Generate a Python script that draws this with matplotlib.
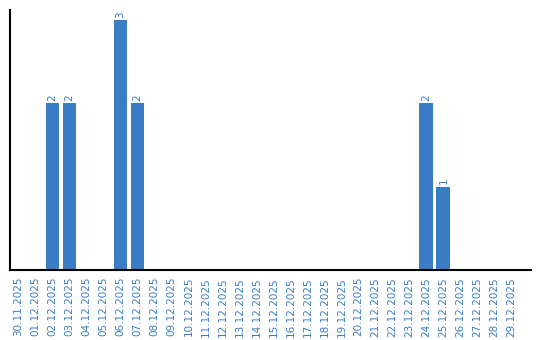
import matplotlib
matplotlib.use("Agg")
import matplotlib.pyplot as plt
import numpy as np

# Daten
dates = ["30.11.2025", "01.12.2025", "02.12.2025", "03.12.2025", "04.12.2025",
         "05.12.2025", "06.12.2025", "07.12.2025", "08.12.2025", "09.12.2025",
         "10.12.2025", "11.12.2025", "12.12.2025", "13.12.2025", "14.12.2025",
         "15.12.2025", "16.12.2025", "17.12.2025", "18.12.2025", "19.12.2025",
         "20.12.2025", "21.12.2025", "22.12.2025", "23.12.2025", "24.12.2025",
         "25.12.2025", "26.12.2025", "27.12.2025", "28.12.2025", "29.12.2025"]
counts = [0, 0, 2, 2, 0, 0, 3, 2, 0, 0, 0, 0, 0, 0, 0,
          0, 0, 0, 0, 0, 0, 0, 0, 0, 2, 1, 0, 0, 0, 0]

blue = "#3A7DC4"

fig = plt.figure(figsize=(5.4, 3.4), dpi=100)
ax = fig.add_axes([10 / 540, 70 / 340, 521 / 540, 260 / 340])

x = np.arange(len(dates))
bars = ax.bar(x, counts, width=0.82, color=blue)

for xi, c in zip(x, counts):
    if c > 0:
        ax.text(xi, c + 0.03, str(c), rotation=90, ha="center", va="bottom",
                color=blue, fontsize=7.5)

ax.set_xlim(-0.5, 30.15)
ax.set_ylim(0, 3.12)
ax.set_xticks(x)
ax.set_xticklabels(dates, rotation=90, color=blue, fontsize=7.5)
ax.set_yticks([])
ax.tick_params(axis="x", length=0, pad=5)

for s in ["top", "right"]:
    ax.spines[s].set_visible(False)
for s in ["left", "bottom"]:
    ax.spines[s].set_linewidth(1.5)
    ax.spines[s].set_color("black")

fig.savefig("out.png", dpi=100)
